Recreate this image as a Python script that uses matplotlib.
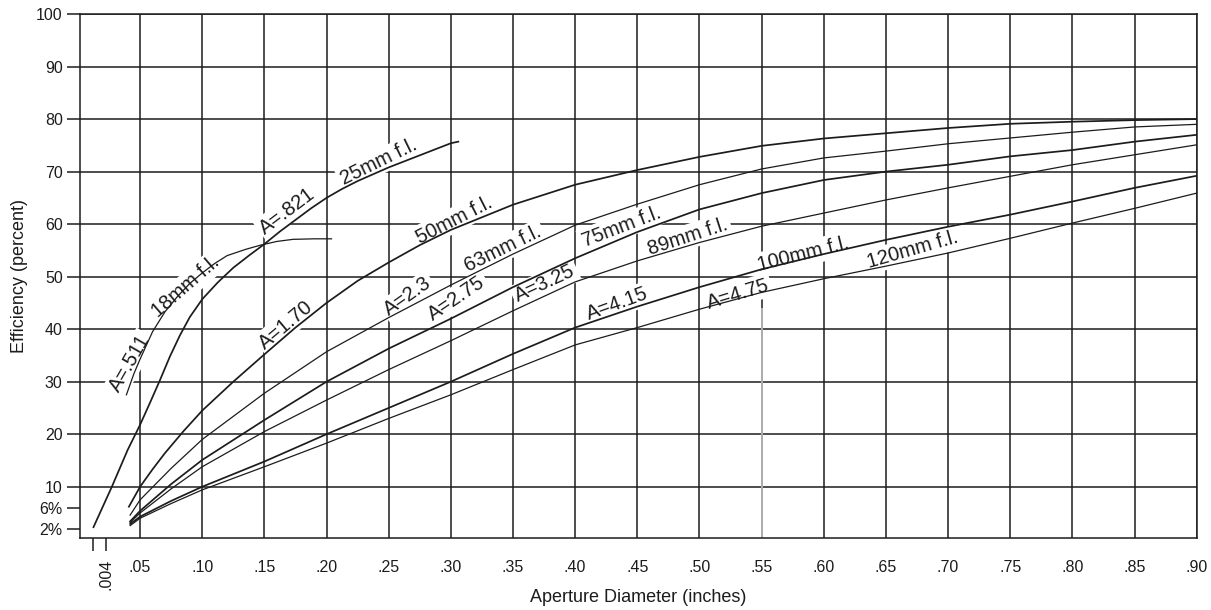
import matplotlib
matplotlib.use("Agg")
import matplotlib.pyplot as plt

plt.rcParams["font.family"] = ["Liberation Sans", "DejaVu Sans"]

# aperture diameter (inches) -> efficiency (percent)
x18 = [0.039, 0.045, 0.05, 0.06, 0.07, 0.08, 0.09, 0.10, 0.11, 0.12,
       0.135, 0.147, 0.16, 0.173, 0.19, 0.204]
y18 = [27.5, 31.5, 34.3, 39.5, 43.3, 46.2, 48.7, 50.7, 52.5, 54.0,
       55.2, 56.0, 56.7, 57.1, 57.2, 57.2]

x25 = [0.0125, 0.02, 0.0273, 0.04, 0.05, 0.058, 0.066, 0.074, 0.082, 0.09,
       0.10, 0.1125, 0.125, 0.1375, 0.15, 0.1625, 0.175, 0.1875, 0.20,
       0.2125, 0.225, 0.25, 0.275, 0.30, 0.306]
y25 = [2.3, 6.2, 10.0, 17.0, 21.8, 26.0, 30.3, 34.8, 38.8, 42.3,
       45.7, 48.9, 51.7, 54.0, 56.2, 58.6, 60.8, 63.0, 65.0,
       66.7, 68.2, 70.8, 73.1, 75.4, 75.7]

x50 = [0.041, 0.05, 0.06, 0.07, 0.085, 0.10, 0.125, 0.15, 0.175,
       0.20, 0.225, 0.25, 0.275, 0.30, 0.35, 0.40, 0.45, 0.50, 0.55, 0.60,
       0.65, 0.70, 0.75, 0.80, 0.85, 0.90]
y50 = [6.2, 10.0, 13.3, 16.4, 20.6, 24.5, 30.0, 35.2, 40.3,
       45.0, 49.2, 52.7, 56.0, 58.9, 63.7, 67.5, 70.3, 72.8, 74.9, 76.3,
       77.3, 78.3, 79.1, 79.5, 79.8, 80.0]

# the long curves share these x positions
xs = [0.042, 0.05, 0.075, 0.10, 0.15, 0.20, 0.25, 0.30, 0.35, 0.40, 0.45,
      0.50, 0.55, 0.60, 0.65, 0.70, 0.75, 0.80, 0.85, 0.90]
y63 = [4.6, 7.5, 13.5, 19.0, 27.8, 35.7, 42.2, 48.4, 54.3, 59.8, 63.8,
       67.5, 70.5, 72.6, 73.9, 75.3, 76.4, 77.5, 78.5, 79.0]
y75 = [3.4, 5.4, 10.5, 15.1, 22.7, 30.0, 36.3, 42.0, 48.0, 53.5, 58.5,
       62.8, 65.9, 68.4, 70.0, 71.3, 72.9, 74.1, 75.7, 77.0]
y89 = [3.2, 5.0, 9.6, 13.8, 20.5, 26.5, 32.3, 37.8, 43.5, 49.0, 53.0,
       56.5, 59.6, 62.1, 64.6, 66.9, 69.1, 71.3, 73.2, 75.1]
y100 = [2.9, 4.3, 7.3, 10.0, 14.8, 20.0, 25.0, 30.0, 35.3, 40.3, 44.3,
        48.0, 51.4, 54.3, 57.0, 59.5, 61.8, 64.3, 66.9, 69.2]
y120 = [2.6, 4.0, 6.8, 9.4, 13.8, 18.3, 23.0, 27.5, 32.3, 37.0, 40.3,
        43.8, 47.0, 49.6, 52.0, 54.5, 57.3, 60.2, 63.0, 65.9]

# curve labels: text, x, y, angle
labels = [
    ("A=.511", 0.042, 33.5, 60),
    ("18mm f.l.", 0.0863, 48.0, 41),
    ("A=.821", 0.1687, 62.5, 37),
    ("25mm f.l.", 0.2423, 71.8, 26),
    ("A=1.70", 0.1675, 40.8, 40),
    ("50mm f.l.", 0.3027, 60.8, 27),
    ("A=2.3", 0.2652, 46.2, 35),
    ("63mm f.l.", 0.342, 55.3, 26),
    ("A=2.75", 0.3048, 45.9, 34),
    ("A=3.25", 0.3758, 48.7, 25),
    ("75mm f.l.", 0.437, 59.5, 21),
    ("89mm f.l.", 0.4909, 57.6, 18),
    ("A=4.15", 0.4342, 44.8, 20),
    ("A=4.75", 0.5307, 46.7, 17),
    ("100mm f.l.", 0.5834, 54.3, 14),
    ("120mm f.l.", 0.6711, 55.1, 16),
]

xticks = [0.05, 0.10, 0.15, 0.20, 0.25, 0.30, 0.35, 0.40, 0.45, 0.50,
          0.55, 0.60, 0.65, 0.70, 0.75, 0.80, 0.85, 0.90]
xticklabels = [".05", ".10", ".15", ".20", ".25", ".30", ".35", ".40", ".45",
               ".50", ".55", ".60", ".65", ".70", ".75", ".80", ".85", ".90"]
xminor = [0.0125, 0.0224]
xminorlabels = ["", ".004"]
yticks = [10, 20, 30, 40, 50, 60, 70, 80, 90, 100]
yminor = [2, 6]
yminorlabels = ["2%", "6%"]

ink = "#1c1c1c"

fig = plt.figure(figsize=(12.11, 6.10), dpi=100)
ax = fig.add_axes([0.0661, 0.1185, 0.9221, 0.8585])

thick = 1.25
thin = 0.9
ax.plot(x25, y25, color=ink, lw=thick, zorder=4)
ax.plot(x18, y18, color=ink, lw=thin, zorder=4)
ax.plot(x50, y50, color=ink, lw=thick, zorder=4)
ax.plot(xs, y63, color=ink, lw=thin, zorder=4)
ax.plot(xs, y75, color=ink, lw=thick, zorder=4)
ax.plot(xs, y89, color=ink, lw=thin, zorder=4)
ax.plot(xs, y100, color=ink, lw=thick, zorder=4)
ax.plot(xs, y120, color=ink, lw=thin, zorder=4)

# faint stray line in the scan
ax.vlines(0.55, 0.3, 44, color="#b0b0b0", lw=1.4, zorder=2)

for txt, lx, ly, ang in labels:
    ax.text(lx, ly, txt, fontsize=14.5, rotation=ang, rotation_mode="anchor",
            ha="center", va="center", color=ink, zorder=3,
            bbox=dict(facecolor="white", edgecolor="none", pad=2))

ax.set_xlim(0.0017, 0.90)
ax.set_ylim(0.29, 100)

ax.set_xticks(xticks, labels=xticklabels)
ax.set_xticks(xminor, labels=xminorlabels, minor=True)
ax.set_yticks(yticks, labels=[str(v) for v in yticks])
ax.set_yticks(yminor, labels=yminorlabels, minor=True)

ax.tick_params(axis="x", which="major", length=0, pad=16, labelsize=11.5,
               colors=ink)
ax.tick_params(axis="x", which="minor", length=9.5, width=1.1, pad=6,
               labelsize=11.5, labelrotation=90, colors=ink)
ax.tick_params(axis="y", which="both", length=9.5, width=1.1, pad=3,
               labelsize=11.5, colors=ink)

ax.grid(True, which="major", color=ink, lw=1.1)
ax.set_axisbelow(True)
for s in ax.spines.values():
    s.set_color(ink)
    s.set_linewidth(1.1)

ax.set_xlabel("Aperture Diameter (inches)", fontsize=13, color=ink)
ax.xaxis.set_label_coords(0.5, -0.098)
ax.set_ylabel("Efficiency (percent)", fontsize=13, labelpad=6, color=ink)

plt.savefig("out.png", dpi=100)
